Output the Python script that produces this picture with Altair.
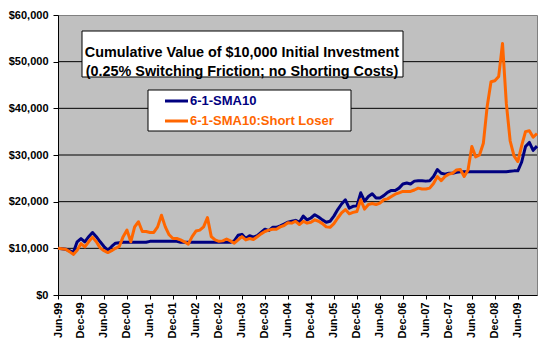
import altair as alt
import pandas as pd

series_names = ["6-1-SMA10", "6-1-SMA10:Short Loser"]
series_colors = ["#000080", "#FF6600"]

months = list(pd.date_range("1999-06-01", periods=126, freq="MS").strftime("%b-%y"))

tick_labels = ["Jun-99", "Dec-99", "Jun-00", "Dec-00", "Jun-01", "Dec-01", "Jun-02",
               "Dec-02", "Jun-03", "Dec-03", "Jun-04", "Dec-04", "Jun-05", "Dec-05",
               "Jun-06", "Dec-06", "Jun-07", "Dec-07", "Jun-08", "Dec-08", "Jun-09"]

sma10 = [
    10000, 9900, 9800, 9500, 9100, 11400, 12100, 11400, 12500, 13400, 12500, 11400,
    10400, 9600, 10400, 11100, 11200, 11300, 11300, 11300, 11300, 11300, 11300, 11300,
    11500, 11500, 11500, 11500, 11500, 11500, 11500, 11500, 11300, 11300, 11300, 11300,
    11300, 11300, 11300, 11300, 11300, 11300, 11300, 11300, 11300, 11300, 11600, 12800,
    13000, 12100, 12700, 12400, 12700, 13400, 14100, 13800, 14500, 14500, 14800, 15200,
    15600, 15800, 16000, 15600, 16900, 16100, 16500, 17200, 16700, 16100, 15600, 15800,
    16900, 18300, 19500, 20400, 18600, 19000, 19100, 21900, 20100, 21100, 21700, 20800,
    20800, 21300, 22000, 22400, 22400, 22900, 23800, 24000, 23800, 24400, 24500, 24500,
    24400, 24500, 25400, 26900, 26100, 25900, 26100, 26100, 26300, 26400, 26400, 26400,
    26400, 26400, 26400, 26400, 26400, 26400, 26400, 26400, 26400, 26400, 26500, 26600,
    26600, 28500, 31800, 32700, 31000, 31900,
]

short_loser = [
    10000, 9900, 9800, 9300, 8700, 9600, 11000, 10300, 11400, 12400, 11400, 10100,
    9500, 9100, 9500, 10000, 10400, 12500, 13900, 11400, 14600, 15700, 13600, 13600,
    13400, 13400, 14600, 17100, 14600, 12900, 12100, 12100, 11800, 11400, 10900, 12500,
    13700, 13900, 14600, 16600, 12500, 11800, 11500, 11600, 12000, 11600, 11100, 11800,
    12500, 11800, 12100, 11900, 12500, 13100, 13600, 13900, 14100, 14100, 14600, 14900,
    15500, 15400, 15800, 15100, 15800, 15400, 15600, 16100, 15800, 15300, 14600, 14500,
    15300, 16500, 17600, 18300, 17400, 17700, 17900, 20400, 18400, 19400, 19600, 19400,
    19700, 20400, 20600, 21100, 21600, 21900, 22200, 22200, 22200, 22500, 22900, 22700,
    22700, 22900, 23900, 25400, 24500, 25400, 25900, 26100, 26800, 26900, 25400, 26800,
    31800, 29600, 30000, 32500, 40400, 45700, 45900, 46800, 53900, 41000, 33000, 29800,
    28600, 32000, 35000, 35200, 33800, 34600,
]

y_ticks = [0, 10000, 20000, 30000, 40000, 50000, 60000]
grid_values = [10000, 20000, 30000, 40000, 50000]

title_lines = ["Cumulative Value of $10,000 Initial Investment",
               "(0.25%  Switching Friction; no Shorting Costs)"]

FONT = "Liberation Sans"

df = pd.DataFrame({
    "month": months * 2,
    "value": sma10 + short_loser,
    "series": [series_names[0]] * len(months) + [series_names[1]] * len(months),
    "order": [0] * len(months) + [1] * len(months),
})

x_enc = alt.X(
    "month:O",
    sort=months,
    scale=alt.Scale(type="point", padding=0, domain=months),
    axis=alt.Axis(
        values=tick_labels, labelAngle=-90, title=None, labelFont=FONT,
        labelFontSize=11, labelFontWeight="bold", labelColor="black",
        domainColor="black", tickColor="black", tickSize=4, labelPadding=3,
        grid=False,
    ),
)
y_axis = alt.Axis(
    values=y_ticks, format="$,.0f", title=None, labelFont=FONT,
    labelFontSize=11, labelFontWeight="bold", labelColor="black",
    domainColor="black", tickColor="black", tickSize=5, labelPadding=5,
    grid=False,
)
y_scale = alt.Scale(domain=[0, 60000], nice=False)

grid = alt.Chart(pd.DataFrame({"value": grid_values})).mark_rule(
    color="black", strokeWidth=1
).encode(y=alt.Y("value:Q", scale=y_scale, axis=y_axis))

lines = alt.Chart(df).mark_line(strokeWidth=3, strokeJoin="round").encode(
    x=x_enc,
    y=alt.Y("value:Q", scale=y_scale, axis=y_axis),
    color=alt.Color("series:N", scale=alt.Scale(domain=series_names, range=series_colors),
                    legend=None),
    detail="order:O",
)

one = pd.DataFrame({"a": [0]})

title_box = alt.Chart(one).mark_rect(fill="white", stroke="black", strokeWidth=1).encode(
    x=alt.value(24), x2=alt.value(345), y=alt.value(16), y2=alt.value(62)
)
title_text = alt.Chart(one).mark_text(
    font=FONT, fontSize=14.4, fontWeight="bold", color="black", align="center",
    baseline="middle", lineHeight=19
).encode(x=alt.value(184), y=alt.value(38), text=alt.value(title_lines))

legend_box = alt.Chart(one).mark_rect(fill="white", stroke="black", strokeWidth=1).encode(
    x=alt.value(90), x2=alt.value(293), y=alt.value(75), y2=alt.value(116)
)
leg_layers = []
for i, (name, col) in enumerate(zip(series_names, series_colors)):
    yy = 86 + 20 * i
    leg_layers.append(
        alt.Chart(one).mark_rule(color=col, strokeWidth=3).encode(
            x=alt.value(107), x2=alt.value(130), y=alt.value(yy)
        )
    )
    leg_layers.append(
        alt.Chart(one).mark_text(
            font=FONT, fontSize=13, fontWeight="bold", color=col, align="left",
            baseline="middle"
        ).encode(x=alt.value(132), y=alt.value(yy), text=alt.value(name))
    )

chart = alt.layer(
    grid, lines, title_box, title_text, legend_box, *leg_layers
).properties(
    width=479, height=280,
    autosize=alt.AutoSizeParams(type="none"),
    padding={"left": 58, "top": 15, "right": 13, "bottom": 55},
    background="white",
).configure_view(
    fill="#C0C0C0", stroke="#808080", strokeWidth=1
)

chart.save("out.html", embed_options={"renderer": "svg", "actions": False})
